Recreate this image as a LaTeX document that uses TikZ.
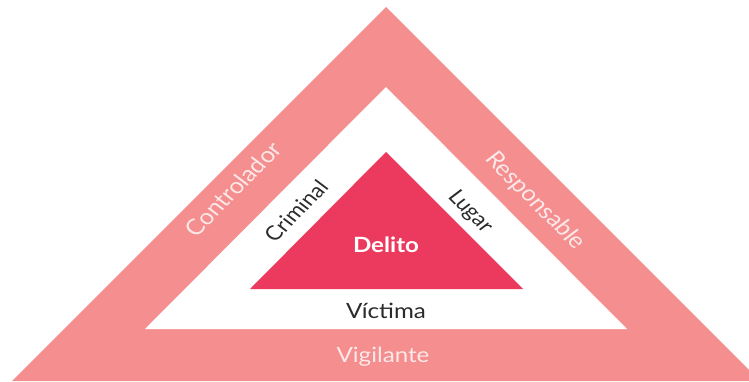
\documentclass[tikz,border=0pt]{standalone}
\usepackage{fontspec}
\setmainfont{Lato}
\definecolor{band}{HTML}{F48E8F}
\definecolor{core}{HTML}{EC3A5E}
\definecolor{ink}{HTML}{2B2B2B}
\definecolor{pale}{HTML}{FCE8E8}
\begin{document}
\begin{tikzpicture}[x=1pt,y=-1pt,
  lbl/.style={inner sep=0pt, xscale=1.15},
  outerlbl/.style={lbl, text=pale, font=\fontsize{22}{24}\selectfont},
  innerlbl/.style={lbl, text=ink, font=\fontsize{20}{22}\selectfont},
  flatlbl/.style={lbl, font=\fontsize{21}{23}\selectfont}]
\useasboundingbox (0,0) rectangle (749,381);
\clip (0,0) rectangle (749,381);
\fill[band] (12,381) -- (386,7) -- (760,381) -- cycle;
\fill[white] (145,329) -- (386,87) -- (627,329) -- cycle;
\fill[core] (250,289) -- (386,152) -- (523,289) -- cycle;
\node[outerlbl, rotate=49] (ctrl) at (233,189) {Controlador};
\node[outerlbl, rotate=-49] (resp) at (535,201) {Responsable};
\node[flatlbl, text=pale] (vig) at (383,357) {Vigilante};
\node[innerlbl, rotate=49] (crim) at (296,211) {Criminal};
\node[innerlbl, rotate=-49] (lug) at (470,212) {Lugar};
\node[flatlbl, text=ink] (vic) at (386,311) {Víctima};
\node[flatlbl, text=white, font=\fontsize{21}{23}\selectfont\bfseries] (del) at (386,245) {Delito};
\end{tikzpicture}
\end{document}
